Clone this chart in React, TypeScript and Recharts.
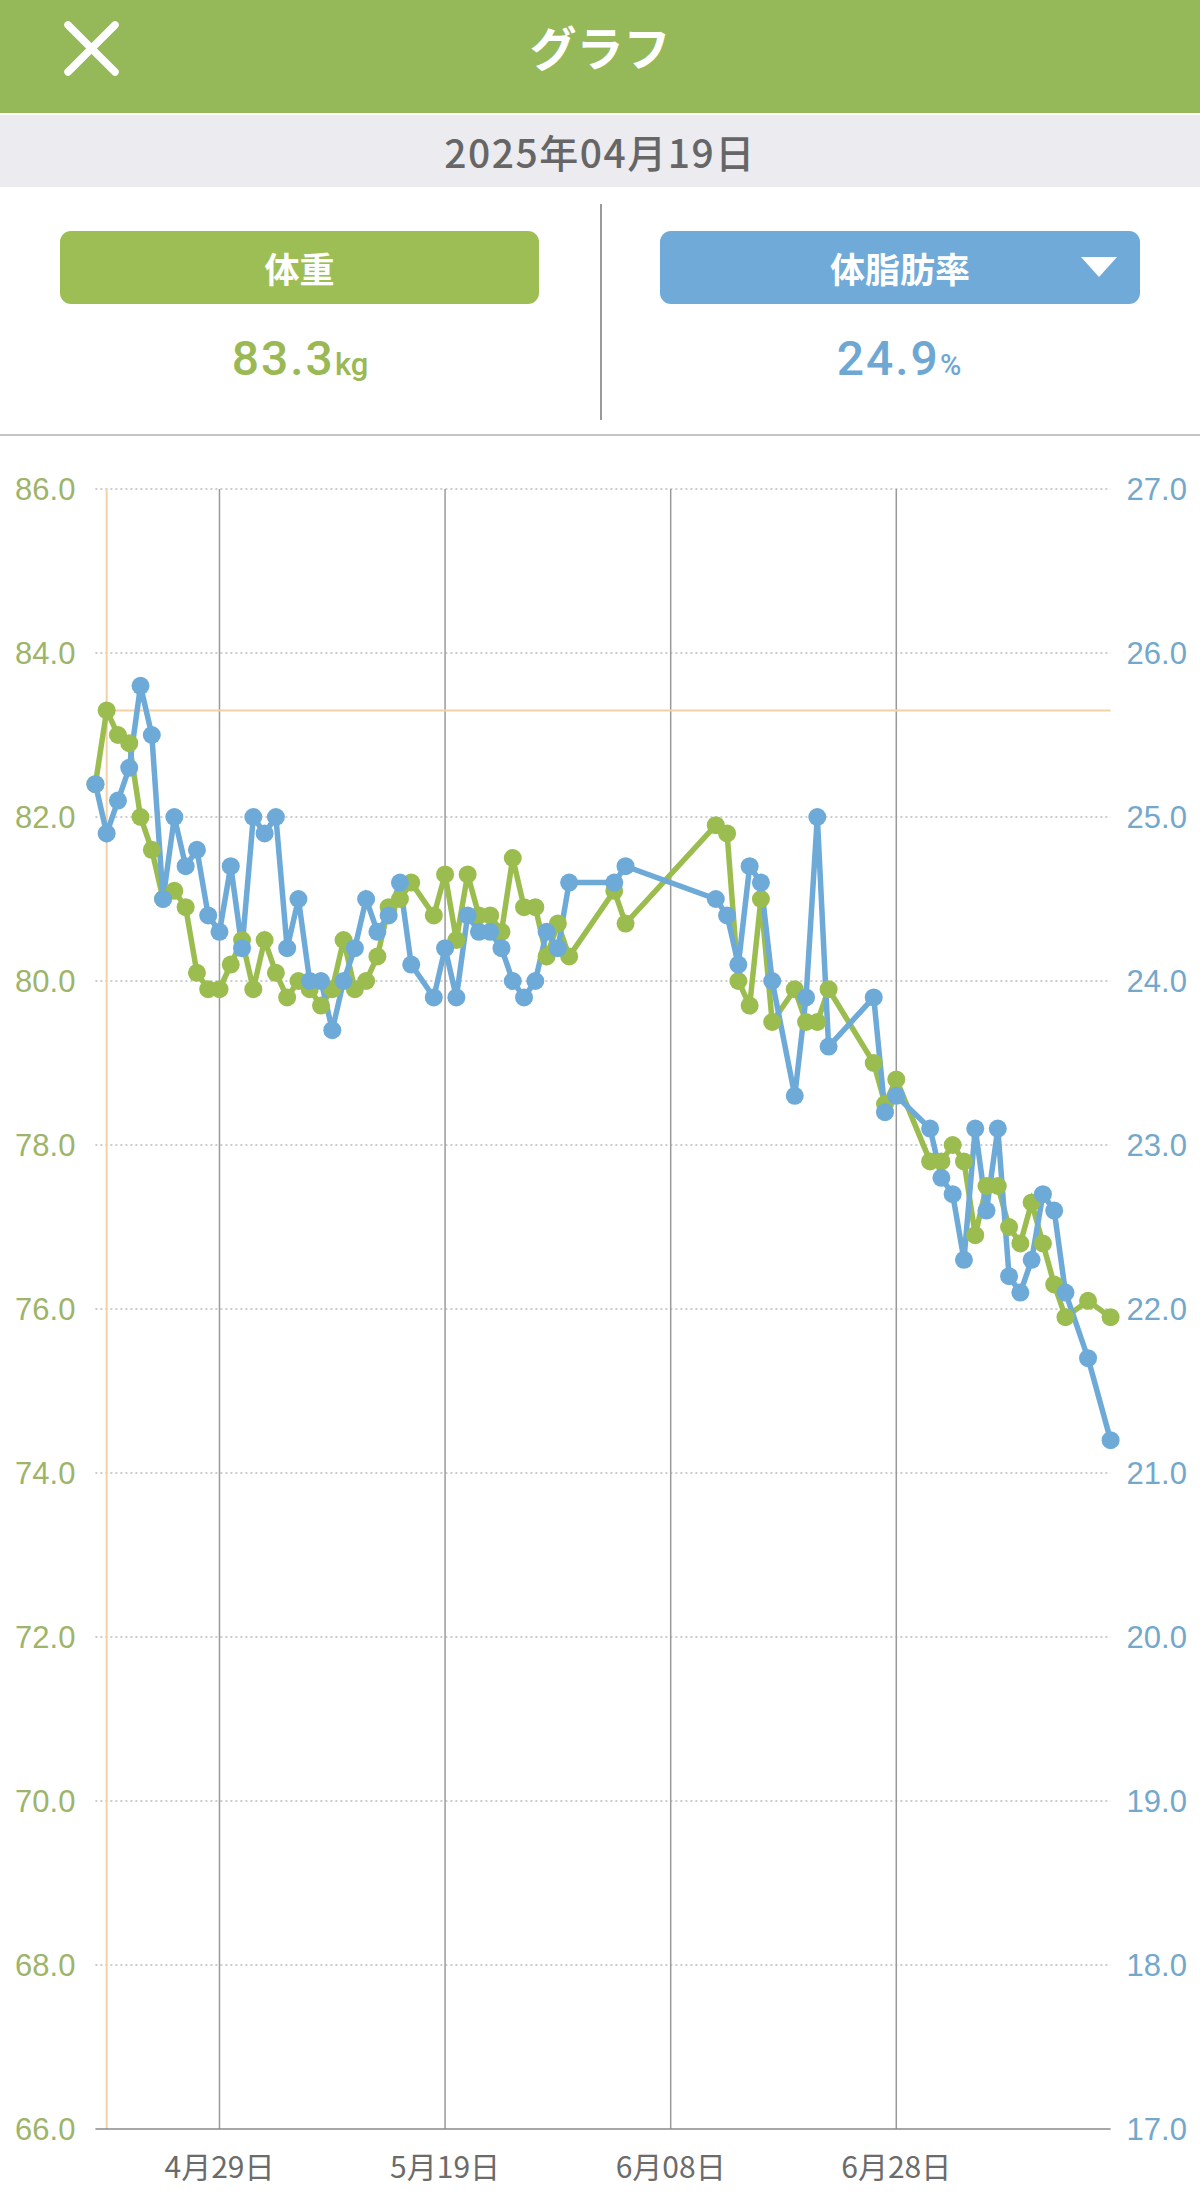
import { LineChart, Line, XAxis, YAxis, ReferenceLine } from "recharts";

// ── データ ────────────────────────────────────────────────────────────────

const dates = [
  "2025-04-18", "2025-04-19", "2025-04-20", "2025-04-21", "2025-04-22", "2025-04-23", "2025-04-24",
  "2025-04-25", "2025-04-26", "2025-04-27", "2025-04-28", "2025-04-29", "2025-04-30", "2025-05-01",
  "2025-05-02", "2025-05-03", "2025-05-04", "2025-05-05", "2025-05-06", "2025-05-07", "2025-05-08",
  "2025-05-09", "2025-05-10", "2025-05-11", "2025-05-12", "2025-05-13", "2025-05-14", "2025-05-15",
  "2025-05-16", "2025-05-18", "2025-05-19", "2025-05-20", "2025-05-21", "2025-05-22", "2025-05-23",
  "2025-05-24", "2025-05-25", "2025-05-26", "2025-05-27", "2025-05-28", "2025-05-29", "2025-05-30",
  "2025-06-03", "2025-06-04", "2025-06-12", "2025-06-13", "2025-06-14", "2025-06-15", "2025-06-16",
  "2025-06-17", "2025-06-19", "2025-06-20", "2025-06-21", "2025-06-22", "2025-06-26", "2025-06-27",
  "2025-06-28", "2025-07-01", "2025-07-02", "2025-07-03", "2025-07-04", "2025-07-05", "2025-07-06",
  "2025-07-07", "2025-07-08", "2025-07-09", "2025-07-10", "2025-07-11", "2025-07-12", "2025-07-13",
  "2025-07-15", "2025-07-17",
];

const weight = [
  82.4, 83.3, 83.0, 82.9, 82.0, 81.6, 81.0,
  81.1, 80.9, 80.1, 79.9, 79.9, 80.2, 80.5,
  79.9, 80.5, 80.1, 79.8, 80.0, 79.9, 79.7,
  79.9, 80.5, 79.9, 80.0, 80.3, 80.9, 81.0,
  81.2, 80.8, 81.3, 80.5, 81.3, 80.8, 80.8,
  80.6, 81.5, 80.9, 80.9, 80.3, 80.7, 80.3,
  81.1, 80.7, 81.9, 81.8, 80.0, 79.7, 81.0,
  79.5, 79.9, 79.5, 79.5, 79.9, 79.0, 78.5,
  78.8, 77.8, 77.8, 78.0, 77.8, 76.9, 77.5,
  77.5, 77.0, 76.8, 77.3, 76.8, 76.3, 75.9,
  76.1, 75.9,
];

const bodyFat = [
  25.2, 24.9, 25.1, 25.3, 25.8, 25.5, 24.5,
  25.0, 24.7, 24.8, 24.4, 24.3, 24.7, 24.2,
  25.0, 24.9, 25.0, 24.2, 24.5, 24.0, 24.0,
  23.7, 24.0, 24.2, 24.5, 24.3, 24.4, 24.6,
  24.1, 23.9, 24.2, 23.9, 24.4, 24.3, 24.3,
  24.2, 24.0, 23.9, 24.0, 24.3, 24.2, 24.6,
  24.6, 24.7, 24.5, 24.4, 24.1, 24.7, 24.6,
  24.0, 23.3, 23.9, 25.0, 23.6, 23.9, 23.2,
  23.3, 23.1, 22.8, 22.7, 22.3, 23.1, 22.6,
  23.1, 22.2, 22.1, 22.3, 22.7, 22.6, 22.1,
  21.7, 21.2,
];

const tickDates = ["2025-04-29", "2025-05-19", "2025-06-08", "2025-06-28"];
const tickLabels = ["4月29日", "5月19日", "6月08日", "6月28日"];
const weightTicks = [66, 68, 70, 72, 74, 76, 78, 80, 82, 84, 86];
const fatTicks = [17, 18, 19, 20, 21, 22, 23, 24, 25, 26, 27];

const selectedDate = "2025-04-19";
const selectedWeight = 83.3;
const selectedFat = 24.9;

// ── 色 ──────────────────────────────────────────────────────────────────

const GREEN = "#9bbd50";
const BLUE = "#6eaad8";
const GREEN_LABEL = "#9db46a";
const BLUE_LABEL = "#72a8cc";
const SELECT = "#f2d1a4";
const GRID = "#9a9a9a";

const toDay = (s: string) => Date.parse(s + "T00:00:00Z") / 86400000;

const rows = dates.map((d, i) => ({ day: toDay(d), weight: weight[i], fat: bodyFat[i] }));
const tickDays = tickDates.map(toDay);
const selDay = toDay(selectedDate);
const lastDay = rows[rows.length - 1].day;

const CJK = '"Noto Sans CJK JP", "Noto Sans", sans-serif';
const NUM = '"Liberation Sans", Arial, sans-serif';

function XTick({ x, y, payload }: any) {
  const i = tickDays.indexOf(payload.value);
  return (
    <text x={x} y={y + 34} textAnchor="middle" dominantBaseline="central" fill="#6b6b6b" fontSize={30} fontFamily={CJK}>
      {tickLabels[i]}
    </text>
  );
}

function LeftTick({ x, y, payload }: any) {
  return (
    <text x={x - 18} y={y} textAnchor="end" dominantBaseline="central" fill={GREEN_LABEL} fontSize={31} fontFamily={NUM}>
      {Number(payload.value).toFixed(1)}
    </text>
  );
}

function RightTick({ x, y, payload }: any) {
  return (
    <text x={x + 14} y={y} textAnchor="start" dominantBaseline="central" fill={BLUE_LABEL} fontSize={31} fontFamily={NUM}>
      {Number(payload.value).toFixed(1)}
    </text>
  );
}

export default function App() {
  return (
    <div style={{ position: "relative", width: 1200, height: 2206, background: "#fff", overflow: "hidden" }}>
      <style>{"body{margin:0}"}</style>

      {/* ヘッダー */}
      <div style={{ position: "absolute", left: 0, top: 0, width: 1200, height: 113, background: "#95b858" }}>
        <svg width={1200} height={113} style={{ position: "absolute", left: 0, top: 0 }}>
          <line x1={68} y1={25} x2={115} y2={72} stroke="#fff" strokeWidth={7.5} strokeLinecap="round" />
          <line x1={115} y1={25} x2={68} y2={72} stroke="#fff" strokeWidth={7.5} strokeLinecap="round" />
        </svg>
        <div style={{ position: "absolute", left: 0, width: 1200, top: 14, textAlign: "center", color: "#fff", fontSize: 47, fontWeight: 700, fontFamily: CJK, lineHeight: "64px" }}>
          グラフ
        </div>
      </div>

      {/* 日付 */}
      <div style={{ position: "absolute", left: 0, top: 115, width: 1200, height: 72, background: "#ececf0", textAlign: "center", lineHeight: "72px", color: "#666", fontSize: 39, fontWeight: 500, fontFamily: CJK, letterSpacing: 1.5 }}>
        2025年04月19日
      </div>

      {/* ボタンと値 */}
      <div style={{ position: "absolute", left: 60, top: 231, width: 479, height: 73, background: "#9dbe54", borderRadius: 11, textAlign: "center", lineHeight: "73px", color: "#fff", fontSize: 35, fontWeight: 700, fontFamily: CJK }}>
        体重
      </div>
      <div style={{ position: "absolute", left: 660, top: 231, width: 480, height: 73, background: "#70aad8", borderRadius: 11, textAlign: "center", lineHeight: "73px", color: "#fff", fontSize: 35, fontWeight: 700, fontFamily: CJK }}>
        体脂肪率
        <svg width={36} height={20} style={{ position: "absolute", left: 421, top: 26 }}>
          <polygon points="0,0 36,0 18,20" fill="#fff" />
        </svg>
      </div>
      <svg width={1200} height={110} style={{ position: "absolute", left: 0, top: 320 }}>
        <text x={300} y={55} textAnchor="middle" fill="#9ab955" fontFamily='Roboto, "Liberation Sans", sans-serif' fontWeight={500}>
          <tspan fontSize={48} letterSpacing={2}>{selectedWeight.toFixed(1)}</tspan>
          <tspan fontSize={31}>kg</tspan>
        </text>
        <text x={899} y={55} textAnchor="middle" fill="#6fa7d3" fontFamily='Roboto, "Liberation Sans", sans-serif' fontWeight={500}>
          <tspan fontSize={48} letterSpacing={2}>{selectedFat.toFixed(1)}</tspan>
          <tspan fontSize={29}>%</tspan>
        </text>
      </svg>
      <div style={{ position: "absolute", left: 600, top: 204, width: 2, height: 216, background: GRID }} />
      <div style={{ position: "absolute", left: 0, top: 434, width: 1200, height: 2, background: "#c4c4c4" }} />

      {/* グラフ */}
      <div style={{ position: "absolute", left: 0, top: 435 }}>
        <LineChart width={1200} height={1771} data={rows} margin={{ top: 54, right: 0, bottom: 0, left: 0 }}>
          <XAxis
            dataKey="day"
            type="number"
            domain={["dataMin", "dataMax"]}
            ticks={tickDays}
            tick={<XTick />}
            tickLine={false}
            tickSize={0}
            height={77}
            axisLine={{ stroke: "#8a8a8a", strokeWidth: 1.5 }}
            interval={0}
          />
          <YAxis yAxisId="w" domain={[66, 86]} ticks={weightTicks} width={95.4} tick={<LeftTick />} tickLine={false} tickSize={0} axisLine={false} interval={0} />
          <YAxis yAxisId="f" orientation="right" domain={[17, 27]} ticks={fatTicks} width={89.4} tick={<RightTick />} tickLine={false} tickSize={0} axisLine={false} interval={0} />
          {weightTicks.slice(1).map((t) => (
            <ReferenceLine key={"h" + t} yAxisId="w" y={t} stroke={GRID} strokeWidth={1.2} strokeDasharray="2 3" />
          ))}
          {tickDays.map((d) => (
            <ReferenceLine key={"v" + d} yAxisId="w" x={d} stroke={GRID} strokeWidth={1.5} />
          ))}
          <ReferenceLine yAxisId="w" x={selDay} stroke={SELECT} strokeWidth={2} />
          <ReferenceLine
            yAxisId="w"
            segment={[{ x: selDay, y: selectedWeight }, { x: lastDay, y: selectedWeight }]}
            stroke={SELECT}
            strokeWidth={2}
          />
          <Line
            yAxisId="w"
            type="linear"
            dataKey="weight"
            stroke={GREEN}
            strokeWidth={5.5}
            dot={{ r: 9, fill: GREEN, stroke: "none" }}
            activeDot={false}
            isAnimationActive={false}
          />
          <Line
            yAxisId="f"
            type="linear"
            dataKey="fat"
            stroke={BLUE}
            strokeWidth={5.5}
            dot={{ r: 9, fill: BLUE, stroke: "none" }}
            activeDot={false}
            isAnimationActive={false}
          />
        </LineChart>
      </div>
    </div>
  );
}
